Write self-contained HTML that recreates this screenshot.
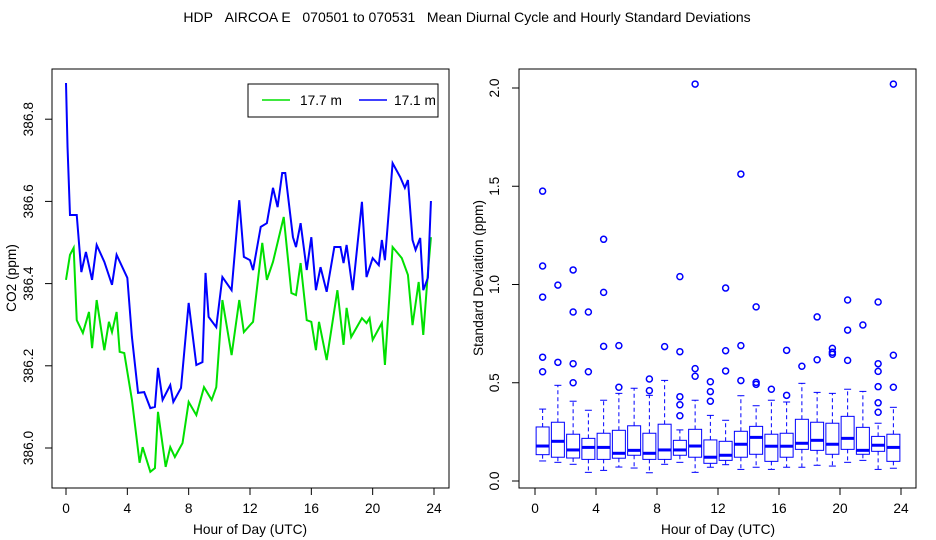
<!DOCTYPE html>
<html><head><meta charset="utf-8"><style>
body{margin:0;background:#fff;width:936px;height:540px;overflow:hidden}
svg{display:block;font-family:"Liberation Sans",sans-serif}
</style></head><body>
<svg id="c" width="936" height="540"></svg>
<script>
const blueHours=[0,0.1,0.26,0.7,1.0,1.3,1.7,2.0,2.5,3.0,3.3,4.0,4.3,4.7,5.1,5.5,5.8,6.0,6.3,6.8,7.0,7.5,8.0,8.5,8.9,9.1,9.3,9.8,10.2,10.8,11.3,11.6,12.0,12.2,12.7,13.1,13.5,13.8,14.1,14.3,14.8,15.0,15.3,15.7,16.0,16.3,16.6,17.0,17.5,17.9,18.1,18.3,18.7,19.3,19.6,20.0,20.4,20.6,20.8,21.3,21.8,22.1,22.3,22.6,22.8,23.1,23.3,23.6,23.8];
const blueVals=[386.888,386.732,386.567,386.567,386.428,386.477,386.409,386.494,386.453,386.397,386.470,386.414,386.270,386.134,386.136,386.097,386.100,386.195,386.117,386.153,386.112,386.146,386.353,386.202,386.209,386.426,386.319,386.294,386.416,386.384,386.603,386.465,386.457,386.433,386.538,386.547,386.633,386.586,386.669,386.669,386.513,386.489,386.547,386.433,386.513,386.384,386.440,386.380,386.489,386.489,386.450,386.494,386.384,386.599,386.416,386.462,386.445,386.506,386.457,386.693,386.659,386.633,386.652,386.506,386.482,386.511,386.384,386.414,386.601];
const greenHours=[0,0.26,0.5,0.7,1.1,1.5,1.7,2.0,2.5,2.8,3.0,3.3,3.5,3.8,4.3,4.8,5.0,5.5,5.8,6.0,6.5,6.8,7.1,7.6,8.0,8.5,9.0,9.5,9.8,10.2,10.8,11.3,11.6,12.0,12.2,12.8,13.1,13.5,14.2,14.7,15.0,15.3,15.7,16.0,16.3,16.5,17.0,17.7,18.1,18.3,18.6,19.3,19.6,19.8,20.0,20.6,20.8,21.3,21.9,22.3,22.6,23.0,23.3,23.6,23.8];
const greenVals=[386.409,386.470,386.487,386.311,386.280,386.331,386.243,386.360,386.238,386.307,386.282,386.331,386.234,386.231,386.117,385.964,386.002,385.942,385.951,386.088,385.954,386.002,385.978,386.012,386.112,386.080,386.148,386.117,386.148,386.360,386.226,386.360,386.282,386.299,386.307,386.499,386.409,386.453,386.562,386.377,386.372,386.450,386.311,386.307,386.238,386.307,386.214,386.384,386.251,386.341,386.270,386.316,386.304,386.316,386.263,386.304,386.202,386.489,386.462,386.421,386.299,386.404,386.275,386.426,386.513];
const leftYTicks=["386.0","386.2","386.4","386.6","386.8"];
const xTicks=["0","4","8","12","16","20","24"];
const rightYTicks=["0.0","0.5","1.0","1.5","2.0"];
const boxHours=[0.5,1.5,2.5,3.5,4.5,5.5,6.5,7.5,8.5,9.5,10.5,11.5,12.5,13.5,14.5,15.5,16.5,17.5,18.5,19.5,20.5,21.5,22.5,23.5];
const whiskLo=[.102,.095,.085,.044,.054,.071,.066,.042,.085,.095,.044,.070,.083,.059,.070,.059,.070,.070,.080,.076,.095,.105,.059,.065];
const q1=[.134,.121,.117,.110,.110,.116,.131,.110,.110,.131,.121,.090,.105,.121,.136,.100,.121,.161,.156,.136,.161,.136,.151,.100];
const med=[.178,.202,.158,.171,.171,.141,.156,.141,.158,.158,.178,.121,.131,.187,.222,.177,.177,.192,.207,.187,.217,.156,.182,.171];
const q3=[.275,.299,.238,.217,.243,.258,.281,.243,.289,.207,.263,.209,.202,.253,.278,.238,.243,.314,.299,.294,.329,.273,.227,.238];
const whiskHi=[.366,.487,.406,.360,.411,.446,.472,.436,.512,.260,.411,.334,.309,.434,.383,.411,.402,.497,.451,.446,.467,.456,.294,.375];
const outliers=[[1.475,1.094,.936,.63,.556],[.997,.604],[1.074,.86,.597,.5],[.86,.556],[1.23,.96,.685],[.689,.477],[],[.519,.46],[.684],[1.04,.658,.429,.388,.332],[2.02,.572,.533],[.505,.455,.406],[.982,.663,.56],[1.562,.689,.511],[.886,.502,.492],[.467],[.665,.436],[.584],[.835,.617],[.675,.655,.645],[.921,.768,.614],[.794],[.911,.597,.558,.48,.398,.35],[2.02,.64,.477]];

const S="http://www.w3.org/2000/svg";
const svg=document.getElementById('c');
const FS=13.7;
function mk(t,a,p){const e=document.createElementNS(S,t);for(const k in a)e.setAttribute(k,a[k]);(p||svg).appendChild(e);return e;}
const lx=h=>66+h*(434-66)/24, ly=v=>448-(v-386)*411;
const rx=h=>535+h*(901-535)/24, ry=v=>481-v*196.5;

let t=mk('text',{x:467,y:22,'text-anchor':'middle','font-size':14});
t.textContent="HDP\u00a0\u00a0\u00a0AIRCOA E\u00a0\u00a0\u00a0070501 to 070531\u00a0\u00a0\u00a0Mean Diurnal Cycle and Hourly Standard Deviations";



let g=mk('g',{});


let r=mk('rect',{x:52,y:69,width:397,height:419,fill:'none',stroke:'#000'},g);


leftYTicks.forEach(s=>{const y=ly(+s);mk('line',{x1:45,x2:52,y1:y,y2:y,stroke:'#000'},g);
 const e=mk('text',{x:0,y:0,transform:`translate(33,${y}) rotate(-90)`,'text-anchor':'middle','font-size':FS},g);e.textContent=s;
 
 });
xTicks.forEach(s=>{const x=lx(+s);mk('line',{x1:x,x2:x,y1:488,y2:495,stroke:'#000'},g);
 const e=mk('text',{x:x,y:513,'text-anchor':'middle','font-size':FS},g);e.textContent=s;
 
 });
let e=mk('text',{x:250,y:534,'text-anchor':'middle','font-size':FS},g);e.textContent="Hour of Day (UTC)";


e=mk('text',{x:0,y:0,transform:'translate(16,278) rotate(-90)','text-anchor':'middle','font-size':FS},g);e.textContent="CO2 (ppm)";


let p=mk('polyline',{points:greenHours.map((h,i)=>lx(h)+','+ly(greenVals[i])).join(' '),fill:'none',stroke:'#00e000','stroke-width':2},g);


p=mk('polyline',{points:blueHours.map((h,i)=>lx(h)+','+ly(blueVals[i])).join(' '),fill:'none',stroke:'#0000ff','stroke-width':2},g);


let lg=mk('g',{},g);


mk('rect',{x:248,y:84,width:190,height:33,fill:'#fff',stroke:'#000'},lg);
mk('line',{x1:262,x2:290,y1:100,y2:100,stroke:'#00e000','stroke-width':1.5},lg);
e=mk('text',{x:300,y:105,'font-size':FS},lg);e.textContent="17.7 m";


mk('line',{x1:359,x2:387,y1:100,y2:100,stroke:'#0000ff','stroke-width':1.5},lg);
e=mk('text',{x:394,y:105,'font-size':FS},lg);e.textContent="17.1 m";



g=mk('g',{});


r=mk('rect',{x:519,y:69,width:397,height:419,fill:'none',stroke:'#000'},g);


rightYTicks.forEach(s=>{const y=ry(+s);mk('line',{x1:512,x2:519,y1:y,y2:y,stroke:'#000'},g);
 const e=mk('text',{x:0,y:0,transform:`translate(499,${y}) rotate(-90)`,'text-anchor':'middle','font-size':FS},g);e.textContent=s;
 
 });
xTicks.forEach(s=>{const x=rx(+s);mk('line',{x1:x,x2:x,y1:488,y2:495,stroke:'#000'},g);
 const e=mk('text',{x:x,y:513,'text-anchor':'middle','font-size':FS},g);e.textContent=s;
 
 });
e=mk('text',{x:718,y:534,'text-anchor':'middle','font-size':FS},g);e.textContent="Hour of Day (UTC)";


e=mk('text',{x:0,y:0,transform:'translate(483,278) rotate(-90)','text-anchor':'middle','font-size':FS},g);e.textContent="Standard Deviation (ppm)";


boxHours.forEach((h,i)=>{
 const bg=mk('g',{stroke:'#0000ff',fill:'none'},g);
 
 
 const x=rx(h),w=6.5;
 mk('line',{x1:x,x2:x,y1:ry(q3[i]),y2:ry(whiskHi[i]),'stroke-dasharray':'4,3'},bg);
 mk('line',{x1:x,x2:x,y1:ry(q1[i]),y2:ry(whiskLo[i]),'stroke-dasharray':'4,3'},bg);
 mk('line',{x1:x-3.5,x2:x+3.5,y1:ry(whiskHi[i]),y2:ry(whiskHi[i])},bg);
 mk('line',{x1:x-3.5,x2:x+3.5,y1:ry(whiskLo[i]),y2:ry(whiskLo[i])},bg);
 mk('rect',{x:x-w,y:ry(q3[i]),width:2*w,height:ry(q1[i])-ry(q3[i])},bg);
 mk('line',{x1:x-w,x2:x+w,y1:ry(med[i]),y2:ry(med[i]),'stroke-width':3},bg);
 outliers[i].forEach(v=>mk('circle',{cx:x,cy:ry(v),r:3,'stroke-width':1.5},bg));
});
</script>
</body></html>
